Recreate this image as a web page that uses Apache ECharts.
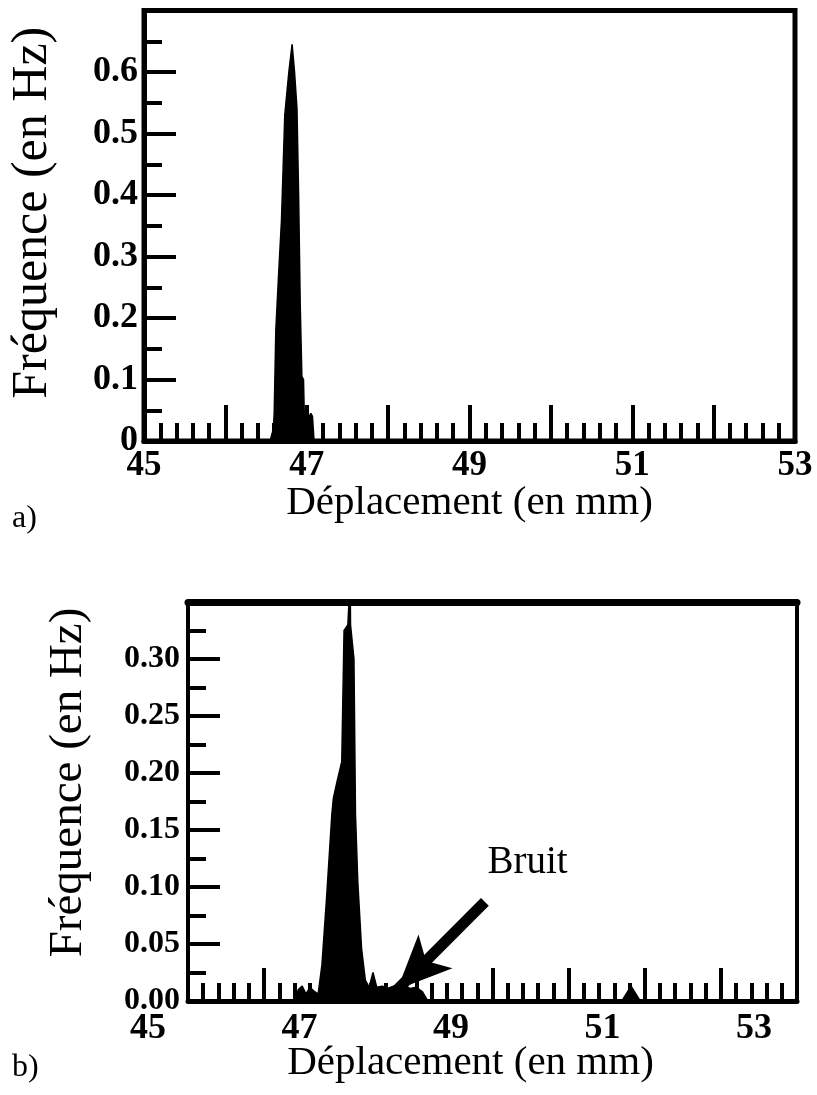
<!DOCTYPE html>
<html>
<head>
<meta charset="utf-8">
<script src="https://cdn.jsdelivr.net/npm/echarts@6/dist/echarts.min.js"></script>
<style>
html,body{margin:0;padding:0;background:#fff;}
#c{width:817px;height:1095px;}
</style>
</head>
<body>
<div id="c"></div>
<script>
// ---- chart a) ----
const xA = [45.0, 46.55, 46.59, 46.60, 46.62, 46.65, 46.69, 46.73, 46.78, 46.82, 46.85, 46.88, 46.90, 46.92, 46.94, 46.96, 46.97, 46.99, 47.01, 47.03, 47.05, 47.07, 47.09, 53.0];
const yA = [0, 0, 0.02, 0.045, 0.18, 0.26, 0.36, 0.53, 0.60, 0.645, 0.60, 0.54, 0.40, 0.22, 0.105, 0.10, 0.04, 0.0, 0.0, 0.04, 0.045, 0.04, 0, 0];
const xTickLabelsA = [45, 47, 49, 51, 53];
const yTickLabelsA = ['0', '0.1', '0.2', '0.3', '0.4', '0.5', '0.6'];

// ---- chart b) ----
const xB = [45.0, 46.40, 46.45, 46.50, 46.55, 46.60, 46.65, 46.71, 46.76, 46.82, 46.89, 46.91, 46.96, 47.02, 47.05, 47.10, 47.125, 47.13, 47.135, 47.16, 47.18, 47.20, 47.23, 47.28, 47.33, 47.38, 47.43, 47.48, 47.55, 47.62, 47.70, 47.78, 47.85, 47.92, 48.00, 48.08, 48.15, 50.70, 50.82, 50.94, 53.0];
const yB = [0, 0, 0.010, 0.013, 0.006, 0.012, 0.009, 0.006, 0.032, 0.09, 0.164, 0.178, 0.193, 0.21, 0.325, 0.33, 0.33, 0.37, 0.33, 0.33, 0.30, 0.164, 0.105, 0.046, 0.018, 0.012, 0.025, 0.012, 0.013, 0.011, 0.013, 0.012, 0.013, 0.011, 0.012, 0.008, 0, 0, 0.013, 0, 0];
const xTickLabelsB = [45, 47, 49, 51, 53];
const yTickLabelsB = ['0.00', '0.05', '0.10', '0.15', '0.20', '0.25', '0.30'];
const noteB = { text: 'Bruit', at: [49.46, 0.121], arrowFrom: [48.9, 0.087], arrowTo: [47.75, 0.01] };

const FONT = 'Liberation Serif';
const tickLab = (size, margin, fmt) => ({ show: true, color: '#000', fontFamily: FONT, fontWeight: 'bold', fontSize: size, margin: margin, formatter: fmt });
const nameStyle = (size, pad) => ({ color: '#000', fontFamily: FONT, fontSize: size, padding: pad || 0 });
const line = w => ({ show: true, lineStyle: { color: '#000', width: w } });
const ticks = (len, w) => ({ show: true, inside: true, length: len, lineStyle: { color: '#000', width: w } });
const minor = (n, len, w) => ({ show: true, splitNumber: n, length: len, lineStyle: { color: '#000', width: w } });

const chart = echarts.init(document.getElementById('c'), null, { renderer: 'canvas' });
chart.setOption({
  animation: false,
  backgroundColor: '#fff',
  grid: [
    { left: 141, right: 22, top: 10.5, bottom: 654, show: true, borderColor: '#000', borderWidth: 5 },
    { left: 188, right: 20, top: 602, bottom: 94, show: true, borderColor: '#000', borderWidth: 4 },
    { left: 148, width: 606, top: 602, bottom: 94, show: false }
  ],
  xAxis: [
    { gridIndex: 0, type: 'value', min: 45, max: 53, interval: 1,
      axisLine: line(5), axisTick: ticks(36, 4), minorTick: minor(5, 18, 4), splitLine: { show: false },
      axisLabel: tickLab(35, 7, v => xTickLabelsA.indexOf(v) >= 0 ? String(v) : ''),
      name: 'Déplacement (en mm)', nameLocation: 'middle', nameGap: 42, nameMoveOverlap: false, nameTextStyle: nameStyle(41) },
    { gridIndex: 1, type: 'value', min: 45, max: 53, interval: 1,
      axisLine: line(5), axisTick: ticks(33, 4), minorTick: minor(5, 18, 4), splitLine: { show: false },
      axisLabel: { show: false },
      name: 'Déplacement (en mm)', nameLocation: 'middle', nameGap: 42, nameMoveOverlap: false, nameTextStyle: nameStyle(41, [0, 44, 0, 0]) },
    { gridIndex: 2, type: 'value', min: 45, max: 53, interval: 2,
      axisLine: { show: false }, axisTick: { show: false }, splitLine: { show: false },
      axisLabel: tickLab(36, 10, v => xTickLabelsB.indexOf(v) >= 0 ? String(v) : '') },
    { gridIndex: 1, type: 'value', position: 'top', min: 45, max: 53,
      axisLine: line(7), axisTick: { show: false }, axisLabel: { show: false }, splitLine: { show: false } }
  ],
  yAxis: [
    { gridIndex: 0, type: 'value', min: 0, max: 0.7, interval: 0.1,
      axisLine: line(5), axisTick: ticks(32, 4), minorTick: minor(2, 18, 4), splitLine: { show: false },
      axisLabel: tickLab(36, 6, (v) => { const i = Math.round(v * 10); return i < yTickLabelsA.length ? yTickLabelsA[i] : ''; }),
      name: 'Fréquence (en Hz)', nameLocation: 'middle', nameRotate: 90, nameGap: 86, nameTextStyle: nameStyle(50, [0, 0, 0, 26]) },
    { gridIndex: 1, type: 'value', min: 0, max: 0.35, interval: 0.05,
      axisLine: line(3), axisTick: ticks(32, 4), minorTick: minor(2, 18, 4), splitLine: { show: false },
      axisLabel: tickLab(32, 8, (v) => { const i = Math.round(v * 20); return i < yTickLabelsB.length ? yTickLabelsB[i] : ''; }),
      name: 'Fréquence (en Hz)', nameLocation: 'middle', nameRotate: 90, nameGap: 96, nameTextStyle: nameStyle(47, [0, 0, 0, 38]) },
    { gridIndex: 2, type: 'value', min: 0, max: 1, show: false }
  ],
  series: [
    { type: 'line', xAxisIndex: 0, yAxisIndex: 0, data: xA.map((x, i) => [x, yA[i]]),
      symbol: 'none', clip: true, lineStyle: { color: '#000', width: 1.5 }, areaStyle: { color: '#000', opacity: 1 }, z: 3 },
    { type: 'line', xAxisIndex: 1, yAxisIndex: 1, data: xB.map((x, i) => [x, yB[i]]),
      symbol: 'none', clip: true, lineStyle: { color: '#000', width: 1.5 }, areaStyle: { color: '#000', opacity: 1 }, z: 3,
      markLine: { silent: true, symbol: ['none', 'arrow'], symbolSize: [36, 54],
        lineStyle: { color: '#000', width: 11, type: 'solid' }, label: { show: false },
        data: [[{ coord: noteB.arrowFrom }, { coord: noteB.arrowTo }]] },
      markPoint: { silent: true, symbol: 'circle', symbolSize: 0,
        label: { show: true, position: 'inside', formatter: noteB.text, color: '#000', fontFamily: FONT, fontSize: 39 },
        data: [{ coord: noteB.at }] } }
  ],
  graphic: [
    { type: 'text', left: 12, top: 503, style: { text: 'a)', font: '32px "Liberation Serif"', fill: '#000' } },
    { type: 'text', left: 12, top: 1052, style: { text: 'b)', font: '32px "Liberation Serif"', fill: '#000' } }
  ]
});
</script>
</body>
</html>
